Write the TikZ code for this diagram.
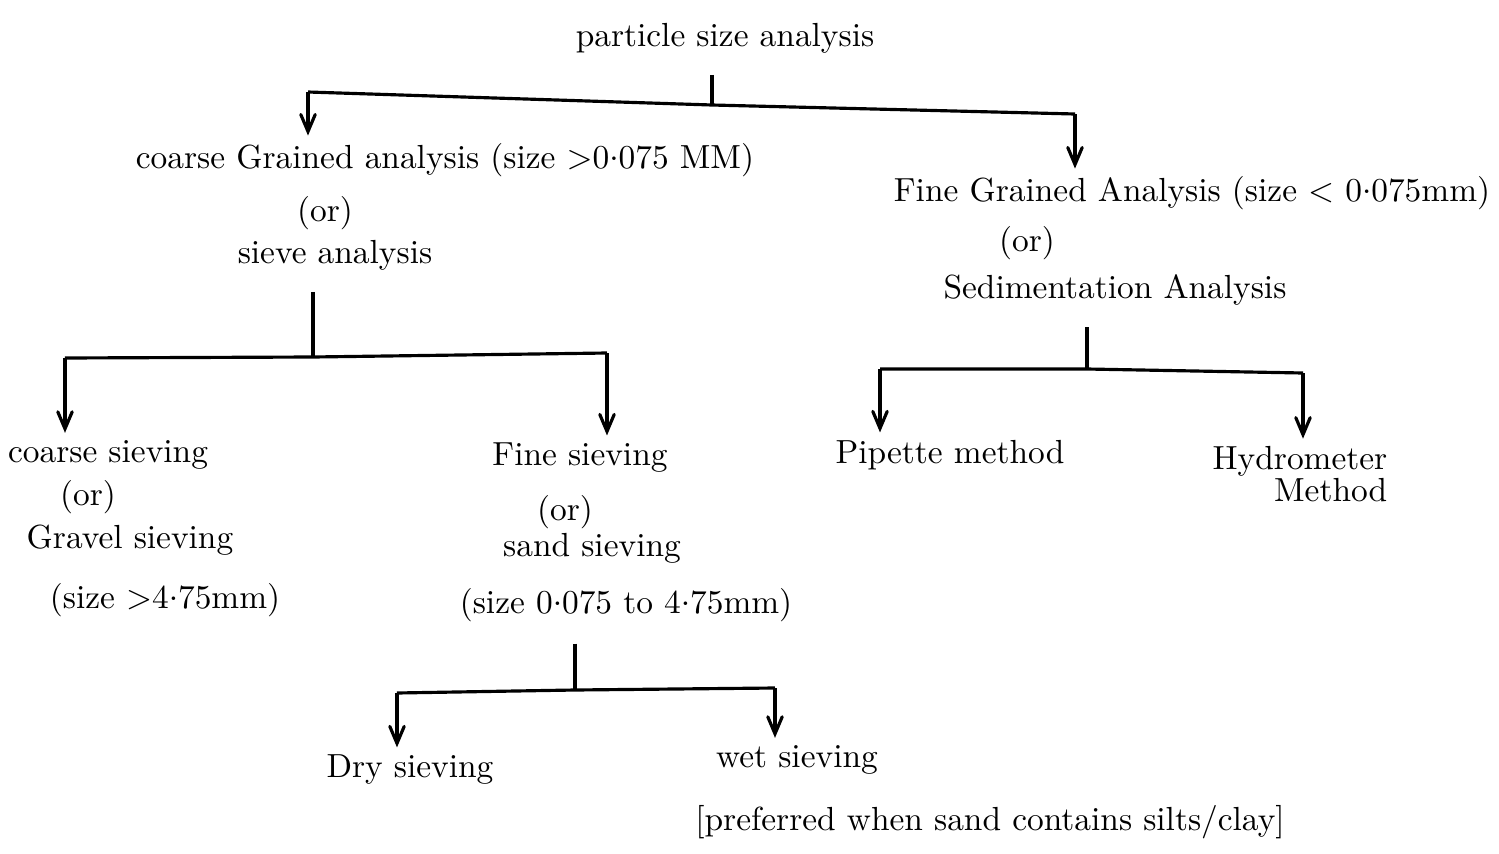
\documentclass[tikz,border=0pt]{standalone}
\usepackage{tikz}
\usetikzlibrary{arrows,positioning}
\tikzset{
      treeedge/.style  = {black, line width=0.9pt},
      treestub/.style  = {black, line width=0.9pt, shorten <=4pt},
      treearrow/.style = {black, line width=0.9pt, ->, >=angle 45},
    }
\newcommand{\pd}{\raisebox{0.55ex}{.}}

\begin{document}
\begin{tikzpicture}[x=0.01cm,y=-0.01cm]
  \tikzstyle{every node} = [font=\fontsize{9.5}{11}\selectfont, inner sep=2pt]
  \useasboundingbox (0,0) rectangle (1499,854);

  % texts
  \node (psa) at (725,38) {particle size analysis};
  \node (cga) at (445,160) {coarse Grained analysis (size >0\pd075 MM)};
  \node (cgaor) at (325,213) {(or)};
  \node (sva) at (335,255) {sieve analysis};
  \node (fga) at (1192,193) {Fine Grained Analysis (size < 0\pd075mm)};
  \node (fgaor) at (1027,243) {(or)};
  \node (sda) at (1115,290) {Sedimentation Analysis};
  \node (cs) at (108,455) {coarse sieving};
  \node (csor) at (88,497) {(or)};
  \node (gs) at (130,540) {Gravel sieving};
  \node (gssize) at (165,600) {(size >4\pd75mm)};
  \node (fs) at (580,458) {Fine sieving};
  \node (fsor) at (565,512) {(or)};
  \node (ss) at (592,548) {sand sieving};
  \node (sssize) at (626,605) {(size 0\pd075 to 4\pd75mm)};
  \node (pm) at (950,455) {Pipette method};
  \node (hm) [align=right, font=\fontsize{9.5}{9}\selectfont] at (1300,474) {Hydrometer\\Method};
  \node (ds) at (410,770) {Dry sieving};
  \node (ws) at (797,760) {wet sieving};
  \node (wsnote) at (990,822) {[preferred when sand contains silts/clay]};

  % branch points
  \coordinate (j0) at (712,105);
  \coordinate (j0l) at (308,92);
  \coordinate (j0r) at (1075,114);
  \coordinate (j1) at (313,357);
  \coordinate (j1l) at (65,358);
  \coordinate (j1r) at (607,353);
  \coordinate (j2) at (1087,369);
  \coordinate (j2l) at (880,369);
  \coordinate (j2r) at (1303,373);
  \coordinate (j3) at (575,690);
  \coordinate (j3l) at (397,693);
  \coordinate (j3r) at (775,688);

  \draw[treestub] (psa.south -| j0) -- (j0);
  \draw[treeedge] (j0l) -- (j0) -- (j0r);
  \draw[treearrow] (j0l) -- (cga.north -| j0l);
  \draw[treearrow] (j0r) -- (fga.north -| j0r);

  \draw[treestub] (sva.south -| j1) -- (j1);
  \draw[treeedge] (j1l) -- (j1) -- (j1r);
  \draw[treearrow] (j1l) -- (cs.north -| j1l);
  \draw[treearrow] (j1r) -- (fs.north -| j1r);

  \draw[treestub] (sda.south -| j2) -- (j2);
  \draw[treeedge] (j2l) -- (j2) -- (j2r);
  \draw[treearrow] (j2l) -- (pm.north -| j2l);
  \draw[treearrow] (j2r) -- (hm.north -| j2r);

  \draw[treestub] (sssize.south -| j3) -- (j3);
  \draw[treeedge] (j3l) -- (j3) -- (j3r);
  \draw[treearrow] (j3l) -- (ds.north -| j3l);
  \draw[treearrow] (j3r) -- (ws.north -| j3r);
\end{tikzpicture}
\end{document}
